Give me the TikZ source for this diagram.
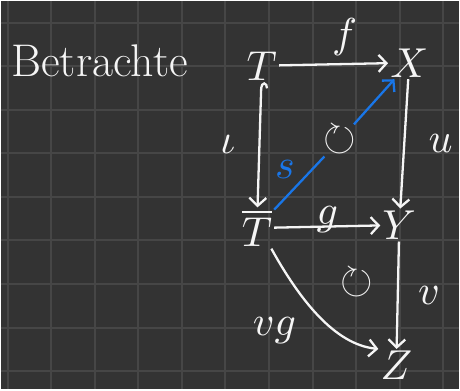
\documentclass[tikz,border=0pt]{standalone}
\usepackage{tikz}
\usepackage{amsmath,amssymb}
\usetikzlibrary{arrows.meta}
\definecolor{board}{RGB}{51,51,51}
\definecolor{gridline}{RGB}{70,70,70}
\definecolor{chalk}{RGB}{245,245,245}
\definecolor{bluepen}{RGB}{25,118,232}
\newcommand{\hand}[1]{\scalebox{4.2}{$#1$}}

\begin{document}
\begin{tikzpicture}[x=1pt,y=-1pt,
    >={Straight Barb[length=8pt,width=17pt]}]

    % board with grid
    \fill[board] (0,0) rectangle (460,390);
    \foreach \i in {0,...,10}
        \draw[gridline,line width=2pt] ({6.7+43.75*\i},0) -- ({6.7+43.75*\i},390);
    \foreach \j in {0,...,8}
        \draw[gridline,line width=2pt] (0,{21.7+43.75*\j}) -- (460,{21.7+43.75*\j});
    \useasboundingbox (0,0) rectangle (460,390);

    \begin{scope}[every node/.style={text=chalk,inner sep=2pt}]
        \node (betr) at (99,60) {\fontsize{46}{50}\selectfont Betrachte};
        \node (T) at (262,65) {\hand{T}};
        \node (X) at (410,62) {\hand{X}};
        \node (Tb) at (257,228) {\hand{\overline{T}}};
        \node (Y) at (400,225) {\hand{Y}};
        \node (Z) at (397,366) {\hand{Z}};
        \node (c1) at (340,140) {\scalebox{4.2}{$\circlearrowright$}};
        \node (c2) at (357,283) {\scalebox{4.2}{$\circlearrowright$}};
    \end{scope}
    \begin{scope}[every path/.style={draw=chalk,line width=2.3pt},
                  every node/.style={text=chalk}]
        \path (T) edge[->] node[pos=0.6, above=4pt] {\hand{f}}(X);
        \path (T) edge[{Hooks[right,length=6pt,width=14pt]}->] node[midway, left=20pt] {\hand{\iota}}(Tb);
        \path (X) edge[->] node[midway, right=20pt] {\hand{u}}(Y);
        \path (Tb) edge[->] node[midway, above=-11pt] {\hand{g}}(Y);
        \path (Y) edge[->] node[midway, right=16pt] {\hand{v}}(Z);
        \draw[->] (Tb.-55) .. controls (300,300) and (335,345) ..
            node[pos=0.4, below left=8pt] {\hand{vg}}(Z.north west);
        \path (Tb) edge[-,bluepen] node[midway, above left=0pt,text=bluepen] {\hand{s}}(c1);
        \path (c1) edge[->,bluepen] (X);
    \end{scope}
\end{tikzpicture}
\end{document}
